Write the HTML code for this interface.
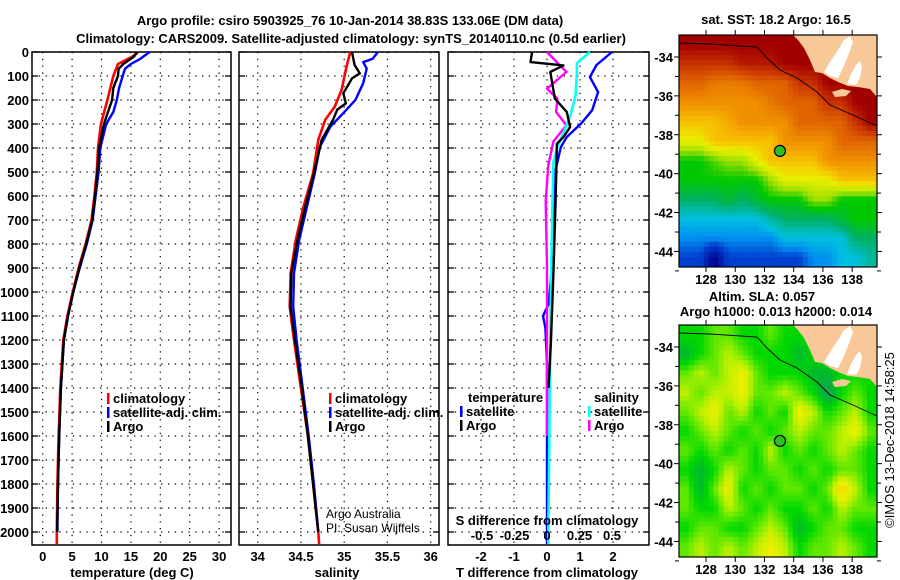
<!DOCTYPE html>
<html><head><meta charset="utf-8">
<style>
html,body{margin:0;padding:0;background:#fff;}
svg{display:block;font-family:"Liberation Sans",Arial,sans-serif;}
.b{font-weight:bold;font-size:13px;}
</style></head>
<body>
<svg id="s" width="900" height="580" xmlns="http://www.w3.org/2000/svg">
<text class="b" x="350" y="25" text-anchor="middle" font-size="14">Argo profile: csiro 5903925_76 10-Jan-2014 38.83S 133.06E (DM data)</text>
<text class="b" x="351" y="43" text-anchor="middle" font-size="14">Climatology: CARS2009. Satellite-adjusted climatology: synTS_20140110.nc (0.5d earlier)</text>
</svg>
<script>
// ---- profile data ----
const depthTicks=[0,100,200,300,400,500,600,700,800,900,1000,1100,1200,1300,1400,1500,1600,1700,1800,1900,2000];
const tempTicks=[0,5,10,15,20,25,30];
const salTicks=[34,34.5,35,35.5,36];
const salTickLabels=["34","34.5","35","35.5","36"];
const dTTicks=[-2,-1,0,1,2];
const dSTicks=[-0.5,-0.25,0,0.25,0.5];
const dSTickLabels=["-0.5","-0.25","0","0.25","0.5"];

const tArgoDepth=[0,20,50,70,100,150,200,250,300,400,500,600,700,800,900,1000,1100,1200,1400,1600,1800,2000];
const tArgo=[16.1,15.5,13.7,12.9,12.8,12.0,11.8,11.1,10.4,9.6,9.3,8.9,8.4,7.4,6.2,5.2,4.3,3.6,3.1,2.8,2.6,2.45];
const tClimDepth=[0,20,50,100,200,300,400,500,600,700,800,900,1000,1100,1200,1400,1600,1800,2000,2050];
const tClim=[16.2,15.2,12.8,12.0,11.0,9.9,9.4,9.2,8.8,8.3,7.3,6.1,5.1,4.2,3.5,3.0,2.7,2.5,2.4,2.4];
const tSatDepth=[0,30,50,70,100,150,200,250,300,400,500,600,700,800,900,1000,1100,1200,1400,1600,1800,2000];
const tSat=[18.2,16.5,15.0,14.0,13.6,13.0,12.6,12.0,10.8,9.8,9.5,9.0,8.5,7.5,6.3,5.2,4.3,3.6,3.1,2.8,2.6,2.5];

const sArgoDepth=[0,54,89,110,172,214,240,283,366,505,644,783,922,1061,1200,1400,1600,1800,2000];
const sArgo=[35.09,35.12,35.18,35.09,34.99,35.02,34.92,34.87,34.74,34.65,34.55,34.46,34.39,34.38,34.43,34.51,34.58,34.64,34.70];
const sClimDepth=[0,56,158,228,283,366,505,644,783,922,1061,1200,1400,1600,1800,2000,2050];
const sClim=[35.07,35.03,34.97,34.89,34.78,34.70,34.64,34.53,34.44,34.38,34.37,34.42,34.50,34.58,34.64,34.70,34.71];
const sSatDepth=[0,28,42,69,130,200,255,311,394,505,644,783,922,1061,1200,1400,1600,1800,2000];
const sSat=[35.39,35.33,35.22,35.26,35.22,35.13,34.99,34.84,34.72,34.66,34.57,34.48,34.42,34.41,34.45,34.52,34.59,34.65,34.70];

const dDepthBlue=[0,54,104,167,242,296,354,396,490,740,900,1050,1100,1150,1300,1600,2000,2050];
const dTSat=[1.97,1.5,1.3,1.55,1.37,1.05,0.6,0.42,0.26,0.2,0.15,0.05,-0.12,-0.05,0.0,0.0,0.0,0.0];
const dDepthBlack=[0,42,56,83,194,250,313,354,382,620,900,1200,1400];
const dTArgo=[-0.45,-0.5,0.5,0.1,0.24,0.6,0.7,0.5,0.3,0.26,0.2,0.12,0.05];
const dDepthMag=[0,56,83,153,194,250,305,372,472,620,900,1200,1500,1600];
const dSArgo=[0,0.1,0.15,0,0.08,0.07,0.15,0.05,0.01,-0.01,0.0,0.0,0.0,0.0];
const dDepthCyan=[0,47,83,181,264,333,396,458,680,1000,1500,2000,2050];
const dSSat=[0.33,0.23,0.23,0.22,0.18,0.13,0.08,0.05,0.04,0.03,0.02,0.01,0.01];

// ---- map data (values on 12 rows x 14 cols) ----
const sstGrid=[
[10,10,10,10,10,10,10,10,10,10,10,10,10,10],
[9,9,9,9,9.5,9.5,9.5,10,10,10,10,10,10,10],
[8,8,7.5,7.5,7.5,8,8,8,9,9,10,10,10,10],
[7,7,7,7,7,7,7.5,8,8,8,9,9,10,10],
[6,6,6,6.5,7,7,7,7,8,8,8,8,9,10],
[5,5,6,6,6,6,6,7,7,7,7,8,8,8],
[3,3,3.5,4,4,5,6,6,6,6,7,7,7,7],
[3,3,3,3,3,3,4,5,5,5,5,6,6,6],
[2,2,2,2.5,2,2.5,3,3,3,4,4,3,3,3],
[1,1,1,1,1,1,1.5,2,2,2,2,2.5,3,3],
[0.5,0.5,0.5,0.5,0.5,0.5,0.5,1,1,1,1,1,2,2],
[0,0,-1,0,0,0,0,0,0,0.5,0.5,1,1,1.5]];
const slaGrid=[
[0,0,0.5,0.5,0,0,0.5,0,0,0,0,0,0,0],
[-0.5,0,0.5,1,0.5,0,0,0,-0.5,0,0,0,0,0],
[0.5,1,0.5,1,1.5,0.5,0,0,0,-0.5,-0.5,0,0,0],
[1,0.5,1,1,1.5,0.5,0.5,1,0.5,0,-1,0,0.5,0],
[0.5,1,1.5,0.5,1,0,0.5,0,1.5,1,0,0.5,1,0],
[0,0.5,1,0.5,0,0.5,0,0.5,1,0.5,0.5,1,1.5,0.5],
[0.5,0,0.5,0,0.5,0,1,0,0.5,0,0.5,1,0.5,0],
[0,-0.5,0,1,0.5,0,0.5,0.5,0,0.5,0,0.5,0.5,0],
[0.5,-0.5,0.5,1.5,0,0.5,0,0.5,0.5,0,0.5,2,1,0],
[0.5,0,0,1,0.5,0,0.5,0,0,0.5,0,1,0.5,0.5],
[0,0.5,0.5,0,0,0.5,1,0.5,-0.5,0,0.5,0.5,0,0],
[0.5,1,0.5,1,0.5,1,1.5,1,0,0.5,0.5,1,0.5,0]];
const argoLon=133.06, argoLat=-38.83;
const lonTicks=[128,130,132,134,136,138];
const latTicks=[-34,-36,-38,-40,-42,-44];

const S=document.getElementById('s');
const NS='http://www.w3.org/2000/svg';
function mk(tag,at,parent){const e=document.createElementNS(NS,tag);for(const k in at)e.setAttribute(k,at[k]);(parent||S).appendChild(e);return e;}
function txt(x,y,t,anchor,cls,parent){const e=mk('text',{x:x,y:y,'text-anchor':anchor||'middle','class':cls||'b'},parent);e.textContent=t;return e;}

const Y0=52, PY=0.24, BOT=545;
function yD(d){return Y0+d*PY;}

function panel(name,L,R,xf,xt,xticks,xlabs){
  const g=mk('g',{});
  
  
  depthTicks.forEach(d=>{const y=yD(d);
    const l=mk('line',{x1:L,x2:R,y1:y,y2:y,stroke:'#000','stroke-width':1.2,'stroke-dasharray':'1.3 5.5'},g);
    
    
    mk('line',{x1:L,x2:L+6,y1:y,y2:y,stroke:'#000','stroke-width':1.3},g);
    mk('line',{x1:R-6,x2:R,y1:y,y2:y,stroke:'#000','stroke-width':1.3},g);
  });
  xticks.forEach((v,i)=>{const x=xf(v);
    mk('line',{x1:x,x2:x,y1:Y0,y2:BOT,stroke:'#000','stroke-width':1.2,'stroke-dasharray':'1.3 5.5'},g);
  });
  const r=mk('rect',{x:L,y:Y0,width:R-L,height:BOT-Y0,fill:'none',stroke:'#000','stroke-width':1.5},g);
  
  
  return g;
}
function line(g,xs,ds,xf,col,w,name){
  const pts=xs.map((v,i)=>xf(v).toFixed(1)+','+yD(ds[i]).toFixed(1)).join(' ');
  const p=mk('polyline',{points:pts,fill:'none',stroke:col,'stroke-width':w||2.4,'stroke-linejoin':'round'},g);
  
  
}
function legend(x,y,col,label,name){
  const g=mk('g',{});
  
  
  mk('rect',{x:x,y:y-10,width:2.5,height:11,fill:col},g);
  txt(x+6,y,label,'start','b',g);
}

depthTicks.forEach(d=>{const t=txt(29,yD(d)+5,String(d),'end');
  
  });

// Panel 1 temperature
const xT=v=>42.7+5.88*v;
const g1=panel('temperature-panel',32,231,xT,0,tempTicks);
line(g1,tClim,tClimDepth,xT,'#f00',2.6,'temp-climatology-line');
line(g1,tSat,tSatDepth,xT,'#00f',2.4,'temp-satellite-line');
line(g1,tArgo,tArgoDepth,xT,'#000',2.4,'temp-argo-line');
tempTicks.forEach(v=>{const t=txt(xT(v),561,String(v));
  
  });
txt(132,577,'temperature (deg C)');
legend(107,403,'#f00','climatology','legend-climatology');
legend(107,417,'#00f','satellite-adj. clim.','legend-satellite');
legend(107,431,'#000','Argo','legend-argo');

// Panel 2 salinity
const xS=v=>257.7+86.5*(v-34);
const g2=panel('salinity-panel',239,439,xS,0,salTicks);
line(g2,sClim,sClimDepth,xS,'#f00',2.6,'sal-climatology-line');
line(g2,sSat,sSatDepth,xS,'#00f',2.4,'sal-satellite-line');
line(g2,sArgo,sArgoDepth,xS,'#000',2.4,'sal-argo-line');
salTicks.forEach((v,i)=>{const t=txt(xS(v),561,salTickLabels[i]);
  
  });
txt(337,577,'salinity');
legend(329,403,'#f00','climatology','legend-climatology-2');
legend(329,417,'#00f','satellite-adj. clim.','legend-satellite-2');
legend(329,431,'#000','Argo','legend-argo-2');
const cr=mk('text',{x:326,y:518,'font-size':12});cr.textContent='Argo Australia';


const pi=mk('text',{x:326,y:532,'font-size':12});pi.textContent='PI: Susan Wijffels';



// Panel 3 differences
const xdT=v=>547+33*v, xdS=v=>547+130*v;
const g3=panel('difference-panel',448,649,xdT,0,dTTicks);
line(g3,dTSat,dDepthBlue,xdT,'#00f',2.4,'dT-satellite-line');
line(g3,dSArgo,dDepthMag,xdS,'#f0f',2.4,'dS-argo-line');
line(g3,dSSat,dDepthCyan,xdS,'#0ff',2.6,'dS-satellite-line');
line(g3,dTArgo,dDepthBlack,xdT,'#000',2.4,'dT-argo-line');
dTTicks.forEach(v=>{const t=txt(xdT(v),561,String(v));
  
  });
dSTicks.forEach((v,i)=>{const t=txt(xdS(v),540,dSTickLabels[i]);
  
  });
txt(547,525,'S difference from climatology');
txt(547,577,'T difference from climatology');
txt(468,402,'temperature','start');
txt(594,402,'salinity','start');
legend(460,416,'#00f','satellite','legend-dT-satellite');
legend(460,430,'#000','Argo','legend-dT-argo');
legend(588,416,'#0ff','satellite','legend-dS-satellite');
legend(588,430,'#f0f','Argo','legend-dS-argo');

// ---- maps ----
const ML=679, MR=877, LON0=126.15, LON1=139.7, LAT0=-32.87, LAT1=-44.8;
const sstStops=[[-1,[0,0,140]],[0,[0,64,208]],[0.5,[0,144,240]],[1,[0,192,224]],[2,[0,176,96]],[3,[0,200,0]],[4,[160,224,0]],[5,[232,240,0]],[6,[248,192,0]],[7,[240,144,0]],[8,[224,100,0]],[9,[200,50,0]],[10,[160,0,0]]];
const slaStops=[[-1,[32,160,96]],[-0.5,[0,184,48]],[0,[0,216,0]],[0.5,[96,232,0]],[1,[192,240,0]],[1.5,[240,240,0]],[2,[240,208,0]]];
function cmap(st,v){if(v<=st[0][0])return st[0][1];for(let i=1;i<st.length;i++){if(v<=st[i][0]){const a=st[i-1],b=st[i],t=(v-a[0])/(b[0]-a[0]);return a[1].map((c,k)=>Math.round(c+(b[1][k]-c)*t));}}return st[st.length-1][1];}
function sample(grid,fr,fc){
  const R=grid.length,C=grid[0].length;
  const r=Math.min(Math.max(fr-0.5,0),R-1), c=Math.min(Math.max(fc-0.5,0),C-1);
  const r0=Math.floor(r), c0=Math.floor(c), r1=Math.min(r0+1,R-1), c1=Math.min(c0+1,C-1);
  const tr=r-r0, tc=c-c0;
  return grid[r0][c0]*(1-tr)*(1-tc)+grid[r0][c1]*(1-tr)*tc+grid[r1][c0]*tr*(1-tc)+grid[r1][c1]*tr*tc;
}
function map(name,T,B,grid,stops){
  const g=mk('g',{});
  
  
  const xL=lon=>ML+(lon-LON0)/(LON1-LON0)*(MR-ML);
  const yL=lat=>T+(LAT0-lat)/(LAT0-LAT1)*(B-T);
  const rows=grid.length, cols=grid[0].length;
  const NR=46, NC=40;
  const cw=(MR-ML)/NC, ch=(B-T)/NR;
  for(let r=0;r<NR;r++)for(let c=0;c<NC;c++){
    const v=sample(grid,(r+0.5)/NR*rows,(c+0.5)/NC*cols);
    const col=cmap(stops,v);
    const cell=mk('rect',{x:(ML+c*cw).toFixed(2),y:(T+r*ch).toFixed(2),width:(cw+0.5).toFixed(2),height:(ch+0.5).toFixed(2),fill:'rgb('+col.join(',')+')'},g);
    
    
  }
  const o=T-35;
  const P=pts=>pts.map(p=>p[0]+','+(p[1]+o)).join(' ');
  const land=mk('polygon',{points:P([[793,35],[877,35],[877,97],[870,89],[858,87],[848,86],[838,82],[830,78],[822,73],[815,72],[810,60],[804,48],[798,40]]),fill:'#f8c898'},g);
  
  
  mk('polygon',{points:P([[824,72],[830,62],[838,50],[844,40],[850,36],[853,42],[848,56],[843,68],[838,78],[830,76]]),fill:'#fff'},g);
  mk('polygon',{points:P([[847,84],[851,74],[856,65],[860,61],[862,67],[860,78],[856,85]]),fill:'#fff'},g);
  mk('polygon',{points:P([[832,92],[842,89],[851,91],[846,96],[835,97]]),fill:'#f8c898'},g);
  mk('polyline',{points:P([[679,43],[710,44],[757,47],[767,58],[780,70],[797,78],[817,92],[830,105],[853,115],[877,126]]),fill:'none',stroke:'#000','stroke-width':0.9},g);
  const dot=mk('circle',{cx:xL(argoLon),cy:yL(argoLat),r:5.5,fill:'#30c020',stroke:'#000','stroke-width':1.2},g);
  
  
  mk('rect',{x:ML,y:T,width:MR-ML,height:B-T,fill:'none',stroke:'#000','stroke-width':1.2},g);
  lonTicks.forEach(v=>{const x=xL(v);
    mk('line',{x1:x,x2:x,y1:T-5,y2:T,stroke:'#000'},g);mk('line',{x1:x,x2:x,y1:B,y2:B+5,stroke:'#000'},g);
    const t=txt(x,B+17,String(v),'middle','b',g);
    
    });
  latTicks.forEach(v=>{const y=yL(v);
    mk('line',{x1:ML-5,x2:ML,y1:y,y2:y,stroke:'#000'},g);mk('line',{x1:MR,x2:MR+5,y1:y,y2:y,stroke:'#000'},g);
    const t=txt(ML-6,y+5,String(v),'end','b',g);
    
    });
  latTicks.forEach(v=>{const y=yL(v-1);
    mk('line',{x1:ML-4,x2:ML,y1:y,y2:y,stroke:'#000'},g);mk('line',{x1:MR,x2:MR+4,y1:y,y2:y,stroke:'#000'},g);});
}
map('sst-map',35,267,sstGrid,sstStops);
map('sla-map',325,557,slaGrid,slaStops);
txt(776,24,'sat. SST: 18.2 Argo: 16.5');
txt(762,301,'Altim. SLA: 0.057');
txt(776,316,'Argo h1000: 0.013 h2000: 0.014');
const im=mk('text',{x:0,y:0,'font-size':13,'text-anchor':'middle',transform:'translate(894,440) rotate(-90)'});
im.textContent='©IMOS 13-Dec-2018 14:58:25';


</script>
</body></html>
